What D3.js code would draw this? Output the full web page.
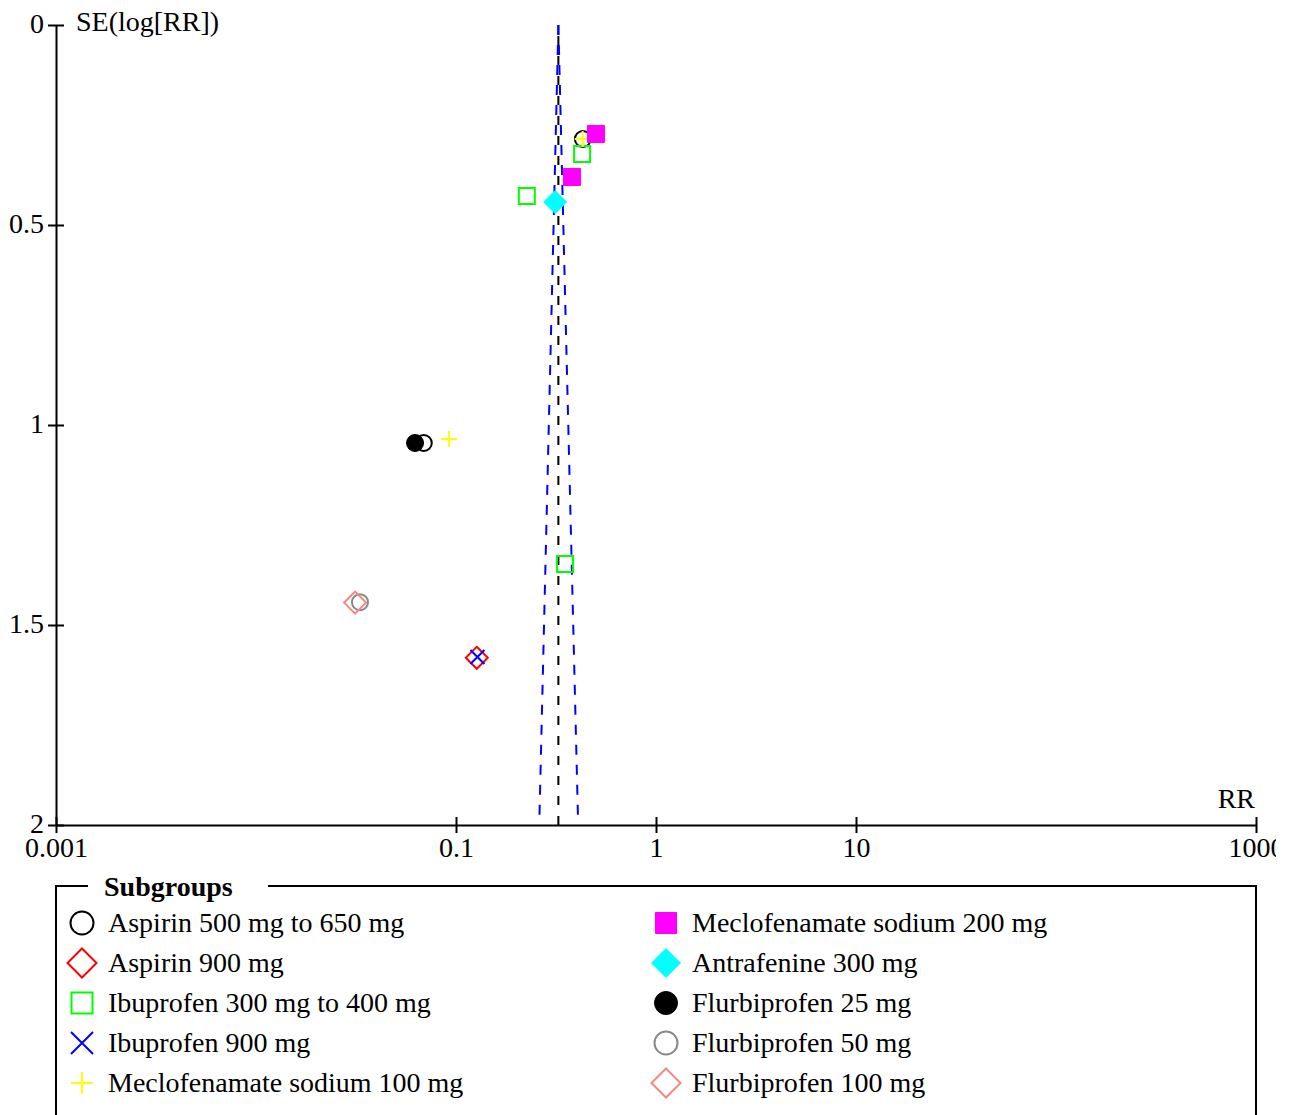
<!DOCTYPE html>
<html>
<head>
<meta charset="utf-8">
<script src="https://cdn.jsdelivr.net/npm/d3@7"></script>
<style>
  html, body { margin: 0; padding: 0; background: #fff; }
  svg { display: block; font-family: "Liberation Serif", "Times New Roman", serif; }
</style>
</head>
<body>
<svg id="chart" width="1276" height="1115"></svg>
<script>
// Subgroups of the funnel plot (legend order = draw order)
const subgroups = [
  "Aspirin 500 mg to 650 mg",
  "Aspirin 900 mg",
  "Ibuprofen 300 mg to 400 mg",
  "Ibuprofen 900 mg",
  "Meclofenamate sodium 100 mg",
  "Meclofenamate sodium 200 mg",
  "Antrafenine 300 mg",
  "Flurbiprofen 25 mg",
  "Flurbiprofen 50 mg",
  "Flurbiprofen 100 mg"
];

// Study estimates per subgroup: risk ratio and standard error of log RR
const studyRR = [
  [0.431, 0.069],          // Aspirin 500-650
  [0.127],                 // Aspirin 900
  [0.427, 0.226, 0.351],   // Ibuprofen 300-400
  [0.128],                 // Ibuprofen 900
  [0.430, 0.0923, 0.377],  // Meclofenamate 100
  [0.501, 0.380],          // Meclofenamate 200
  [0.313],                 // Antrafenine 300
  [0.0624],                // Flurbiprofen 25
  [0.0331],                // Flurbiprofen 50
  [0.0313]                 // Flurbiprofen 100
];
const studySE = [
  [0.285, 1.045],
  [1.582],
  [0.3225, 0.4275, 1.3475],
  [1.580],
  [0.285, 1.035, 0.38],
  [0.2725, 0.38],
  [0.4425],
  [1.045],
  [1.443],
  [1.444]
];

// Pooled estimate and funnel limits
const pooledRR = 0.325;
const pooledSE = [0, 2];
const funnelSE = [0, 1.975];
const funnelLower = [0.325, 0.2615];
const funnelUpper = [0.325, 0.407];

// Axis ticks
const xTicks = [0.001, 0.1, 1, 10, 1000];
const xTickLabels = ["0.001", "0.1", "1", "10", "1000"];
const yTicks = [0, 0.5, 1, 1.5, 2];
const yTickLabels = ["0", "0.5", "1", "1.5", "2"];

// Marker styles per subgroup
const markerShape = ["circle", "diamond", "square", "cross", "plus", "square", "diamond", "circle", "circle", "diamond"];
const markerColor = ["#000000", "#ff0000", "#00ff00", "#0000ff", "#ffff00", "#ff00ff", "#00ffff", "#000000", "#888888", "#f4877f"];
const markerFilled = [false, false, false, false, false, true, true, true, false, false];

const svg = d3.select("#chart");
const x = d3.scaleLog().domain([0.001, 1000]).range([56, 1256]);
const y = d3.scaleLinear().domain([0, 2]).range([25, 825]);

// Shape path generator, size = overall width
function shapePath(shape, s) {
  const h = s / 2;
  switch (shape) {
    case "circle":
      return `M${-h},0A${h},${h} 0 1,0 ${h},0A${h},${h} 0 1,0 ${-h},0Z`;
    case "diamond":
      return `M0,${-h}L${h},0L0,${h}L${-h},0Z`;
    case "square":
      return `M${-h},${-h}H${h}V${h}H${-h}Z`;
    case "cross":
      return `M${-h},${-h}L${h},${h}M${-h},${h}L${h},${-h}`;
    case "plus":
      return `M${-h},0H${h}M0,${-h}V${h}`;
  }
}
const plotSize = { circle: 16, diamond: 22, square: 16, cross: 14, plus: 16 };
const legendSize = { circle: 23, diamond: 29, square: 21, cross: 22, plus: 22 };

function styleMarker(sel, i) {
  const filled = markerFilled[i];
  sel.attr("fill", filled ? markerColor[i] : "none")
     .attr("stroke", markerColor[i])
     .attr("stroke-width", filled ? 1 : 2);
}

// Axes
const xAxis = svg.append("g")
  .attr("transform", `translate(0,${y(2)})`)
  .call(d3.axisBottom(x).tickValues(xTicks).tickFormat((d, i) => xTickLabels[i]).tickSizeOuter(0));
const yAxis = svg.append("g")
  .attr("transform", `translate(${x(0.001)},0)`)
  .call(d3.axisLeft(y).tickValues(yTicks).tickFormat((d, i) => yTickLabels[i]).tickSizeOuter(0));

[xAxis, yAxis].forEach(g => {
  g.select(".domain").attr("stroke", "#000").attr("stroke-width", 2);
  g.selectAll(".tick line").attr("stroke", "#000").attr("stroke-width", 2);
  g.selectAll(".tick text").attr("fill", "#000").attr("font-size", 28)
    .attr("font-family", "Liberation Serif, serif");
});
xAxis.selectAll(".tick line").attr("y1", -8).attr("y2", 8);
xAxis.selectAll(".tick text").attr("y", 32).attr("dy", 0);
yAxis.selectAll(".tick line").attr("x1", -8).attr("x2", 8);
yAxis.selectAll(".tick text").attr("x", -12).attr("dy", "0.25em");

// Axis titles
svg.append("text").attr("x", 76).attr("y", 31).attr("font-size", 28).text("SE(log[RR])");
svg.append("text").attr("x", 1255).attr("y", 808).attr("font-size", 28)
  .attr("text-anchor", "end").text("RR");

// Pooled estimate line and funnel
const line = d3.line().x(d => x(d[0])).y(d => y(d[1]));
svg.append("path")
  .attr("d", line(pooledSE.map(s => [pooledRR, s])))
  .attr("stroke", "#000").attr("stroke-width", 2).attr("fill", "none")
  .attr("stroke-dasharray", "9,11").attr("stroke-dashoffset", -11);
svg.append("path")
  .attr("d", line(funnelSE.map((s, i) => [funnelLower[i], s])))
  .attr("stroke", "#0000ff").attr("stroke-width", 2).attr("fill", "none")
  .attr("stroke-dasharray", "10,10");
svg.append("path")
  .attr("d", line(funnelSE.map((s, i) => [funnelUpper[i], s])))
  .attr("stroke", "#0000ff").attr("stroke-width", 2).attr("fill", "none")
  .attr("stroke-dasharray", "10,10");

// Study markers
subgroups.forEach((name, i) => {
  const pts = studyRR[i].map((rr, j) => [rr, studySE[i][j]]);
  svg.append("g").selectAll("path").data(pts).join("path")
    .attr("transform", d => `translate(${x(d[0])},${y(d[1])})`)
    .attr("d", shapePath(markerShape[i], plotSize[markerShape[i]] + (markerFilled[i] ? 1 : 0)))
    .call(styleMarker, i);
});

// Legend box with title
const legend = svg.append("g");
legend.append("path")
  .attr("d", "M88,886H56V1140M268,886H1256V1140")
  .attr("fill", "none").attr("stroke", "#000").attr("stroke-width", 2);
legend.append("text").attr("x", 104).attr("y", 896)
  .attr("font-size", 28).attr("font-weight", "bold").text("Subgroups");

subgroups.forEach((name, i) => {
  const col = i < 5 ? 0 : 1;
  const row = i % 5;
  const sx = col === 0 ? 82 : 666;
  const base = 932 + row * 40;
  legend.append("path")
    .attr("transform", `translate(${sx},${base - 9})`)
    .attr("d", shapePath(markerShape[i], legendSize[markerShape[i]]))
    .call(styleMarker, i);
  legend.append("text").attr("x", sx + 26).attr("y", base)
    .attr("font-size", 28).text(name);
});
</script>
</body>
</html>
